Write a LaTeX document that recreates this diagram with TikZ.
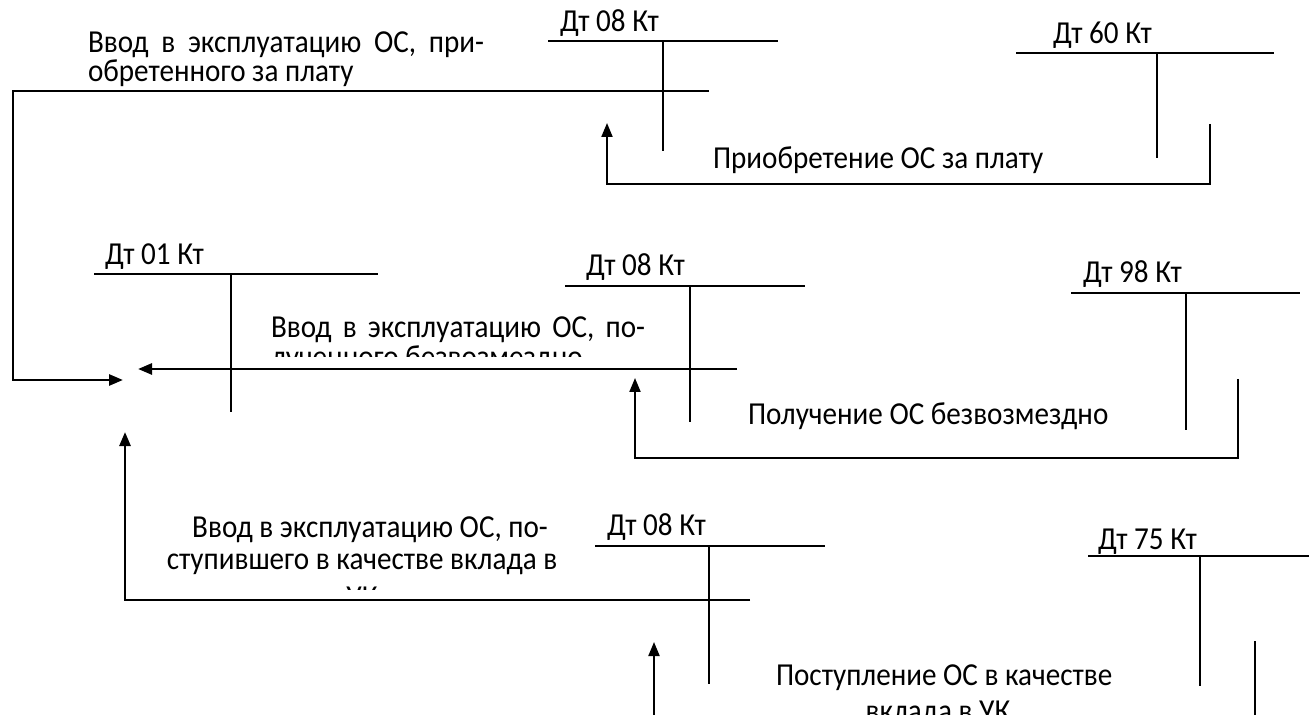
\documentclass[tikz,border=0pt]{standalone}
\usepackage{fontspec}
\setmainfont{Carlito}[FakeStretch=0.91]
\usetikzlibrary{arrows.meta}
\begin{document}
\begin{tikzpicture}[x=0.5pt,y=-0.5pt,
  every node/.style={inner sep=0pt,outer sep=0pt,font=\fontsize{16}{19}\selectfont},
  lbl/.style={anchor=base west},
  clbl/.style={anchor=base},
  tacc/.style={line width=0.7pt},
  conn/.style={line width=1pt,-{Triangle[length=7pt,width=5.5pt]}},
  plain/.style={line width=1pt},
  thick arrow/.style={line width=1.3pt,-{Triangle[length=7pt,width=5.5pt]}}]
\useasboundingbox (0,0) rectangle (1309,715);
\clip (0,0) rectangle (1309,715);

% ---------- top block ----------
\node[lbl] (t1a) at (88,53) {\makebox[198pt][s]{Ввод в эксплуатацию ОС, при-}};
\node[lbl] (t1b) at (88,82) {обретенного за плату};
\node[lbl] (d08a) at (560,32) {Дт 08 Кт};
\coordinate (a08l) at (548,41); \coordinate (a08r) at (778,41);
\coordinate (a08t) at (663,41); \coordinate (a08b) at (663,151);
\draw[tacc] (a08l) -- (a08r) (a08t) -- (a08b);
\node[lbl] (d60) at (1053,44) {Дт 60 Кт};
\coordinate (a60l) at (1016,53); \coordinate (a60r) at (1274,53);
\coordinate (a60t) at (1157,53); \coordinate (a60b) at (1157,158);
\draw[tacc] (a60l) -- (a60r) (a60t) -- (a60b);
\node[lbl] (p1) at (713,169) {Приобретение ОС за плату};
\coordinate (r1s) at (1210,124);
\coordinate (r1e) at (607,123);
\draw[conn] (r1s) -- (1210,184) -- (607,184) -- (r1e);

% ---------- middle block ----------
\node[lbl] (d01) at (105,265) {Дт 01 Кт};
\coordinate (a01l) at (94,274); \coordinate (a01r) at (378,274);
\coordinate (a01t) at (231,274); \coordinate (a01b) at (231,412);
\draw[tacc] (a01l) -- (a01r) (a01t) -- (a01b);
\node[lbl] (d08b) at (586,276) {Дт 08 Кт};
\coordinate (b08l) at (565,286); \coordinate (b08r) at (805,286);
\coordinate (b08t) at (690,286); \coordinate (b08b) at (690,422);
\draw[tacc] (b08l) -- (b08r) (b08t) -- (b08b);
\node[lbl] (d98) at (1083,283) {Дт 98 Кт};
\coordinate (a98l) at (1071,293); \coordinate (a98r) at (1300,293);
\coordinate (a98t) at (1186,293); \coordinate (a98b) at (1186,430);
\draw[tacc] (a98l) -- (a98r) (a98t) -- (a98b);
\node[lbl] (m1a) at (271,338) {\makebox[187pt][s]{Ввод в эксплуатацию ОС, по-}};
\begin{scope}
  \clip (0,0) rectangle (1309,357);
  \node[lbl] (m1b) at (271,368) {лученного безвозмездно};
\end{scope}
\node[lbl] (p2) at (748,424) {Получение ОС безвозмездно};
\coordinate (r2s) at (1238,379);
\coordinate (r2e) at (635,378);
\draw[conn] (r2s) -- (1238,458) -- (635,458) -- (r2e);

% arrows into account 01
\coordinate (in1s) at (709,91);
\coordinate (in1e) at (123,380);
\draw[thick arrow] (in1s) -- (13,91) -- (13,380) -- (in1e);
\coordinate (in2s) at (737,369);
\coordinate (in2e) at (138,369);
\draw[thick arrow] (in2s) -- (in2e);
\coordinate (in3s) at (750,600);
\coordinate (in3e) at (125,432);
\draw[thick arrow] (in3s) -- (125,600) -- (in3e);

% ---------- bottom block ----------
\node[clbl] (b1a) at (370,537) {Ввод в эксплуатацию ОС, по-};
\node[clbl] (b1b) at (362,569) {ступившего в качестве вклада в};
\begin{scope}
  \clip (0,0) rectangle (1309,589);
  \node[clbl] (b1c) at (362,607) {УК};
\end{scope}
\node[lbl] (d08c) at (607,535) {Дт 08 Кт};
\coordinate (c08l) at (595,546); \coordinate (c08r) at (825,546);
\coordinate (c08t) at (709,546); \coordinate (c08b) at (709,684);
\draw[tacc] (c08l) -- (c08r) (c08t) -- (c08b);
\node[lbl] (d75) at (1098,549) {Дт 75 Кт};
\coordinate (a75l) at (1088,556); \coordinate (a75r) at (1320,556);
\coordinate (a75t) at (1200,556); \coordinate (a75b) at (1200,686);
\draw[tacc] (a75l) -- (a75r) (a75t) -- (a75b);
\node[lbl] (p3a) at (776,685) {Поступление ОС в качестве};
\node[clbl] (p3b) at (938,721) {вклада в УК};
\coordinate (r3s) at (1255,641);
\coordinate (r3e) at (1255,730);
\draw[plain] (r3s) -- (r3e);
\coordinate (u3s) at (654,730);
\coordinate (u3e) at (654,642);
\draw[conn] (u3s) -- (u3e);
\end{tikzpicture}
\end{document}
